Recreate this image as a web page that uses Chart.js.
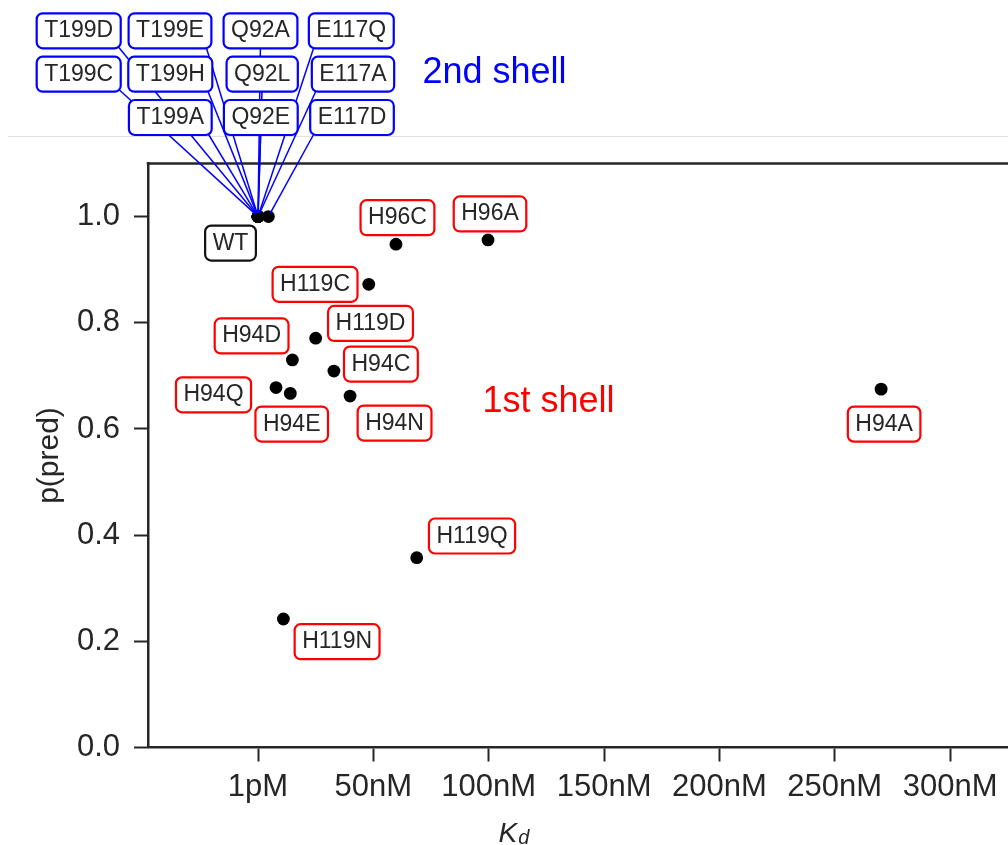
<!DOCTYPE html>
<html>
<head>
<meta charset="utf-8">
<script src="https://cdn.jsdelivr.net/npm/chart.js@4.4.1/dist/chart.umd.min.js"></script>
<style>
  html, body { margin: 0; padding: 0; background: #fff; overflow: hidden; }
  canvas { display: block; }
</style>
</head>
<body>
<canvas id="chart" width="1008" height="845"></canvas>
<script>
// Dissociation constant vs. predicted probability for active-site mutants

const xTicks = [0, 50, 100, 150, 200, 250, 300];
const xTickLabels = ['1pM', '50nM', '100nM', '150nM', '200nM', '250nM', '300nM'];
const yTicks = [0, 0.2, 0.4, 0.6, 0.8, 1.0];

// first-shell mutants (Kd in nM, p(pred))
const firstShellNames = ['H96C', 'H96A', 'H119C', 'H119D', 'H94D', 'H94C', 'H94Q', 'H94E', 'H94N', 'H94A', 'H119Q', 'H119N'];
const firstShellKd    = [59.8, 99.7, 48.0, 25.0, 14.9, 32.9, 7.8, 14.0, 39.9, 270.1, 68.8, 11.0];
const firstShellP     = [0.948, 0.956, 0.8725, 0.771, 0.730, 0.709, 0.678, 0.667, 0.662, 0.675, 0.3575, 0.242];

// wild type
const wtNames = ['WT'];
const wtKd    = [0];
const wtP     = [1.0];

// second-shell mutants
const secondShellNames = ['T199D', 'T199E', 'Q92A', 'E117Q', 'T199C', 'T199H', 'Q92L', 'E117A', 'T199A', 'Q92E', 'E117D'];
const secondShellKd    = [0, 0, 0, 0, 0, 0, 0, 0, 0, 0, 4.5];
const secondShellP     = [1.0, 1.0, 1.0, 1.0, 1.0, 1.0, 1.0, 1.0, 1.0, 1.0, 1.0];

// ---- label layout ----
// offsets (px) of each first-shell label box from its point
const firstShellLabelOffsets = [
  [1.5, -26.5], [2, -26], [-53.7, 0], [54.8, -14.7], [-40.8, -24], [47, -7],
  [-62.5, 7.3], [1.4, 30.7], [44.5, 27], [3, 35], [55.3, -21.7], [53.7, 22.7]
];
const wtLabelOffsets = [[-27.5, 26.5]];
// second-shell label boxes sit in a band above the axes (canvas px centres)
const secondShellBoxCenters = [
  [78.7, 30.8], [170, 30.8], [260.5, 30.8], [351.3, 30.8],
  [78.7, 74.2], [170.3, 74.2], [262.2, 74.2], [353, 74.2],
  [170.3, 117.5], [260.8, 117.5], [352, 117.5]
];

const FONT = '"Liberation Sans", Arial, Helvetica, sans-serif';
const INK = '#262626';
const RED = '#ff0000';
const BLUE = '#0000ff';
const BOX_H = 35, BOX_PADX = 7.5, BOX_FONT = '23px ' + FONT;

function toPoints(xs, ys) { return xs.map((x, i) => ({ x: x, y: ys[i] })); }

function roundRect(ctx, x, y, w, h, r) {
  ctx.beginPath();
  ctx.moveTo(x + r, y);
  ctx.arcTo(x + w, y, x + w, y + h, r);
  ctx.arcTo(x + w, y + h, x, y + h, r);
  ctx.arcTo(x, y + h, x, y, r);
  ctx.arcTo(x, y, x + w, y, r);
  ctx.closePath();
}

function boxWidth(ctx, text) {
  ctx.font = BOX_FONT;
  return ctx.measureText(text).width + 2 * BOX_PADX;
}

function drawBox(ctx, text, cx, cy, edge) {
  ctx.font = BOX_FONT;
  const w = boxWidth(ctx, text);
  roundRect(ctx, cx - w / 2, cy - BOX_H / 2, w, BOX_H, 6);
  ctx.fillStyle = '#fff';
  ctx.fill();
  ctx.lineWidth = 2.2;
  ctx.strokeStyle = edge;
  ctx.stroke();
  ctx.fillStyle = INK;
  ctx.textAlign = 'center';
  ctx.textBaseline = 'alphabetic';
  ctx.fillText(text, cx, cy + 6.5);
}

// leader line starts at the text-bbox corner / edge-midpoint nearest the target
function leaderStart(ctx, text, cx, cy, tx, ty) {
  const w = boxWidth(ctx, text) - 14, h = BOX_H - 14;
  const xs = [cx - w / 2, cx, cx + w / 2];
  const ys = [cy - h / 2, cy, cy + h / 2];
  const pick = (arr, t) => arr.reduce((a, b) => Math.abs(b - t) < Math.abs(a - t) ? b : a);
  return [pick(xs, tx), pick(ys, ty)];
}

const annotations = {
  id: 'annotations',
  afterDatasetsDraw(chart) {
    const ctx = chart.ctx;
    const xs = chart.scales.x, ys = chart.scales.y;
    const area = chart.chartArea;
    ctx.save();

    // top spine
    ctx.strokeStyle = INK;
    ctx.lineWidth = 2.5;
    ctx.beginPath();
    ctx.moveTo(area.left - 1.25, area.top);
    ctx.lineTo(area.right, area.top);
    ctx.stroke();

    // faint rule under the label band
    ctx.strokeStyle = '#e2e2e2';
    ctx.lineWidth = 1;
    ctx.beginPath();
    ctx.moveTo(8, 136.5);
    ctx.lineTo(1008, 136.5);
    ctx.stroke();

    // second-shell leader lines
    ctx.strokeStyle = BLUE;
    ctx.lineWidth = 1.5;
    secondShellNames.forEach((name, i) => {
      const tx = xs.getPixelForValue(secondShellKd[i]);
      const ty = ys.getPixelForValue(secondShellP[i]);
      const [cx, cy] = secondShellBoxCenters[i];
      const [sx, sy] = leaderStart(ctx, name, cx, cy, tx, ty);
      const dx = tx - sx, dy = ty - sy, len = Math.hypot(dx, dy);
      const shrink = 4;
      ctx.beginPath();
      ctx.moveTo(sx, sy);
      ctx.lineTo(tx - dx / len * shrink, ty - dy / len * shrink);
      ctx.stroke();
    });
    // second-shell boxes
    secondShellNames.forEach((name, i) => {
      const [cx, cy] = secondShellBoxCenters[i];
      drawBox(ctx, name, cx, cy, BLUE);
    });

    // first-shell boxes
    firstShellNames.forEach((name, i) => {
      const px = xs.getPixelForValue(firstShellKd[i]);
      const py = ys.getPixelForValue(firstShellP[i]);
      drawBox(ctx, name, px + firstShellLabelOffsets[i][0], py + firstShellLabelOffsets[i][1], RED);
    });

    // wild type box
    wtNames.forEach((name, i) => {
      const px = xs.getPixelForValue(wtKd[i]);
      const py = ys.getPixelForValue(wtP[i]);
      drawBox(ctx, name, px + wtLabelOffsets[i][0], py + wtLabelOffsets[i][1], '#111111');
    });

    // group captions
    ctx.textAlign = 'left';
    ctx.textBaseline = 'alphabetic';
    ctx.font = '36px ' + FONT;
    ctx.fillStyle = BLUE;
    ctx.fillText('2nd shell', 422.5, 83.3);
    ctx.fillStyle = RED;
    ctx.fillText('1st shell', 482.5, 411.7);

    // x-axis title: K with subscript d
    ctx.fillStyle = INK;
    ctx.font = 'italic 28px ' + FONT;
    ctx.fillText('K', 498.5, 842);
    const kw = ctx.measureText('K').width;
    ctx.font = 'italic 20px ' + FONT;
    ctx.fillText('d', 498.5 + kw + 1, 844);

    ctx.restore();
  }
};

const tickFont = { family: FONT, size: 31 };

new Chart(document.getElementById('chart'), {
  type: 'scatter',
  data: {
    datasets: [
      { label: 'first shell', data: toPoints(firstShellKd, firstShellP) },
      { label: 'wild type', data: toPoints(wtKd, wtP) },
      { label: 'second shell', data: toPoints(secondShellKd, secondShellP) }
    ].map(d => Object.assign(d, {
      backgroundColor: '#000',
      borderWidth: 0,
      pointRadius: 6.4,
      pointHoverRadius: 6.4
    }))
  },
  options: {
    responsive: false,
    animation: false,
    events: [],
    layout: { autoPadding: false, padding: { top: 163.5, left: 0, right: 0, bottom: 0 } },
    plugins: { legend: { display: false }, tooltip: { enabled: false } },
    scales: {
      x: {
        type: 'linear',
        position: 'bottom',
        min: -47.69,
        max: 325.1,
        afterBuildTicks: s => { s.ticks = xTicks.map(v => ({ value: v })); },
        afterFit: s => { s.height = 97.5; },
        ticks: {
          autoSkip: false,
          maxRotation: 0,
          padding: 7.5,
          color: INK,
          font: tickFont,
          callback: (v, i) => xTickLabels[i]
        },
        grid: { drawOnChartArea: false, drawTicks: true, tickLength: 14, tickWidth: 2, tickColor: INK },
        border: { display: true, width: 2.5, color: INK },
        title: { display: false }
      },
      y: {
        type: 'linear',
        position: 'left',
        min: 0,
        max: 1.1,
        afterBuildTicks: s => { s.ticks = yTicks.map(v => ({ value: v })); },
        afterFit: s => { s.width = 148; },
        ticks: {
          padding: 14,
          color: INK,
          font: tickFont,
          callback: v => v.toFixed(1)
        },
        grid: { drawOnChartArea: false, drawTicks: true, tickLength: 14, tickWidth: 2, tickColor: INK },
        border: { display: true, width: 2.5, color: INK },
        title: {
          display: true,
          text: 'p(pred)',
          color: INK,
          font: { family: FONT, size: 30 },
          padding: { top: 32, bottom: 0 }
        }
      }
    }
  },
  plugins: [annotations]
});
</script>
</body>
</html>
